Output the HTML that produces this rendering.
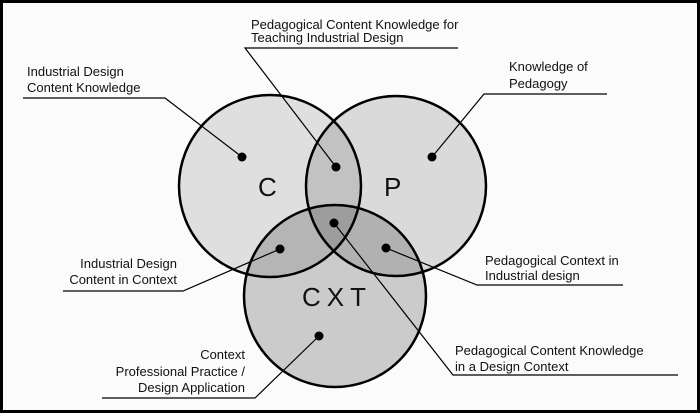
<!DOCTYPE html>
<html><head><style>
html,body{margin:0;padding:0;background:#fff}
svg{display:block}
text{font-family:"Liberation Sans",Arial,sans-serif;font-size:13px;fill:#111}
.big{font-size:26px;fill:#111}
</style></head><body>
<svg width="700" height="413" viewBox="0 0 700 413" xmlns="http://www.w3.org/2000/svg">
<rect x="1.5" y="1.5" width="697" height="410" fill="#fbfbfb" stroke="#000" stroke-width="3"/>
<circle cx="270" cy="186" r="91" fill="#000" fill-opacity="0.11"/>
<circle cx="396" cy="186" r="90" fill="#000" fill-opacity="0.13"/>
<circle cx="335" cy="296" r="91" fill="#000" fill-opacity="0.19"/>
<g fill="none" stroke="#000" stroke-width="2.5">
<circle cx="270" cy="186" r="91"/>
<circle cx="396" cy="186" r="90"/>
<circle cx="335" cy="296" r="91"/>
</g>
<g fill="none" stroke="#000" stroke-width="1.2">
<polyline points="23,98 165,98 242,157"/>
<polyline points="458,48 245,48 336,167"/>
<polyline points="607,94 484,94 432,157"/>
<polyline points="63,291 183,291 280,249"/>
<polyline points="623,285 477,285 386,248"/>
<polyline points="678,375 453,375 334,223"/>
<polyline points="102,398 255,398 319,336"/>
</g>
<g fill="#000">
<circle cx="242" cy="157" r="4.5"/>
<circle cx="336" cy="167" r="4.5"/>
<circle cx="432" cy="157" r="4.5"/>
<circle cx="334" cy="223" r="4.5"/>
<circle cx="280" cy="249" r="4.5"/>
<circle cx="386" cy="248" r="4.5"/>
<circle cx="319" cy="336" r="4.5"/>
</g>
<text class="big" x="258" y="196">C</text>
<text class="big" x="384" y="196">P</text>
<text class="big" x="302" y="306" letter-spacing="6">CXT</text>
<text x="251" y="29">Pedagogical Content Knowledge for</text>
<text x="251" y="42">Teaching Industrial Design</text>
<text x="27" y="76">Industrial Design</text>
<text x="27" y="92">Content Knowledge</text>
<text x="509" y="71">Knowledge of</text>
<text x="509" y="88">Pedagogy</text>
<text x="177" y="268" text-anchor="end">Industrial Design</text>
<text x="177" y="284" text-anchor="end">Content in Context</text>
<text x="485" y="265">Pedagogical Context in</text>
<text x="485" y="280">Industrial design</text>
<text x="455" y="355">Pedagogical Content Knowledge</text>
<text x="455" y="371">in a Design Context</text>
<text x="245" y="359" text-anchor="end">Context</text>
<text x="245" y="376" text-anchor="end">Professional Practice /</text>
<text x="245" y="392" text-anchor="end">Design Application</text>
</svg>
</body></html>
